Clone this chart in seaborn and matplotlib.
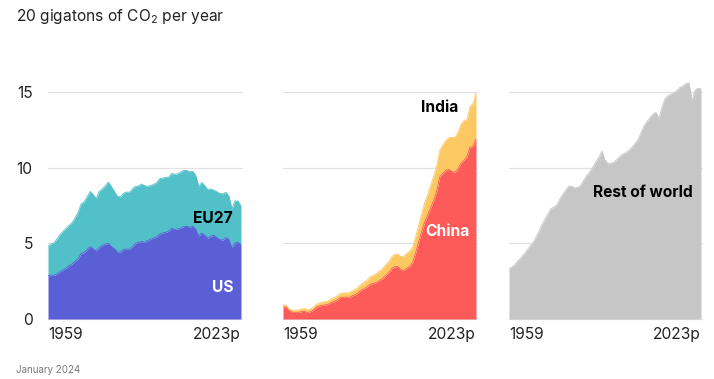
import matplotlib
matplotlib.use("Agg")
import matplotlib.pyplot as plt
import matplotlib.transforms as mtransforms
import seaborn as sns
import pandas as pd

years = list(range(1959, 2024))

us = [2.85, 2.90, 2.88, 2.99, 3.12, 3.25, 3.37, 3.53, 3.64, 3.81, 3.98, 4.33, 4.39, 4.60, 4.78, 4.63,
      4.49, 4.73, 4.87, 4.95, 4.99, 4.80, 4.65, 4.43, 4.41, 4.60, 4.61, 4.61, 4.79, 5.00, 5.07, 5.12,
      5.07, 5.17, 5.27, 5.36, 5.42, 5.61, 5.69, 5.73, 5.80, 6.01, 5.91, 5.95, 6.00, 6.11, 6.13, 6.05,
      6.13, 5.91, 5.48, 5.68, 5.53, 5.34, 5.48, 5.53, 5.38, 5.25, 5.21, 5.38, 5.26, 4.71, 5.03, 5.06, 4.91]

eu27 = [1.95, 2.05, 2.15, 2.30, 2.45, 2.55, 2.62, 2.66, 2.72, 2.88, 3.08, 3.28, 3.35, 3.48, 3.65, 3.58,
        3.47, 3.70, 3.72, 3.85, 4.05, 3.95, 3.78, 3.68, 3.65, 3.70, 3.78, 3.76, 3.80, 3.76, 3.72, 3.80,
        3.74, 3.60, 3.55, 3.53, 3.58, 3.66, 3.62, 3.63, 3.57, 3.60, 3.66, 3.64, 3.71, 3.71, 3.68, 3.68,
        3.63, 3.56, 3.27, 3.35, 3.27, 3.20, 3.12, 2.98, 3.03, 3.04, 3.06, 2.99, 2.85, 2.57, 2.77, 2.74, 2.55]

china = [0.79, 0.80, 0.55, 0.44, 0.44, 0.44, 0.48, 0.52, 0.43, 0.47, 0.58, 0.77, 0.86, 0.90, 0.94, 0.96,
         1.10, 1.15, 1.26, 1.42, 1.44, 1.44, 1.43, 1.53, 1.61, 1.75, 1.91, 2.01, 2.14, 2.30, 2.35, 2.42,
         2.55, 2.68, 2.87, 3.05, 3.32, 3.46, 3.46, 3.27, 3.20, 3.35, 3.48, 3.74, 4.39, 5.10, 5.78, 6.42,
         6.88, 7.38, 7.84, 8.47, 9.40, 9.62, 9.84, 9.88, 9.74, 9.70, 9.92, 10.29, 10.49, 10.72, 11.34, 11.40, 11.90]

india = [0.12, 0.12, 0.13, 0.14, 0.15, 0.15, 0.16, 0.17, 0.17, 0.18, 0.19, 0.20, 0.20, 0.21, 0.22, 0.23,
         0.24, 0.26, 0.27, 0.27, 0.29, 0.29, 0.31, 0.33, 0.35, 0.37, 0.40, 0.43, 0.45, 0.49, 0.53, 0.58,
         0.62, 0.65, 0.68, 0.72, 0.78, 0.80, 0.84, 0.86, 0.92, 0.98, 0.99, 1.01, 1.05, 1.11, 1.19, 1.26,
         1.37, 1.46, 1.61, 1.68, 1.75, 1.88, 1.95, 2.10, 2.26, 2.30, 2.39, 2.55, 2.61, 2.44, 2.69, 2.83, 3.06]

rest = [3.30, 3.45, 3.60, 3.85, 4.05, 4.30, 4.55, 4.80, 5.05, 5.40, 5.80, 6.25, 6.60, 6.95, 7.30, 7.40,
        7.55, 7.95, 8.25, 8.55, 8.80, 8.75, 8.65, 8.70, 8.85, 9.20, 9.50, 9.75, 10.05, 10.40, 10.70, 11.10,
        10.50, 10.25, 10.30, 10.35, 10.55, 10.75, 10.90, 11.00, 11.15, 11.35, 11.60, 11.85, 12.30, 12.75, 13.05, 13.30,
        13.55, 13.65, 13.25, 14.00, 14.55, 14.75, 14.85, 14.95, 15.10, 15.30, 15.40, 15.55, 15.60, 14.40, 15.10, 15.25, 15.20]

x_tick_values = [1959, 2023]
x_tick_labels = ["1959", "2023p"]
y_ticks = [0, 5, 10, 15]

sns.set_theme(style="white")
plt.rcParams["font.family"] = ["Inter", "DejaVu Sans"]
plt.rcParams["mathtext.fontset"] = "custom"
plt.rcParams["mathtext.rm"] = "Inter"

df = pd.DataFrame({"year": years, "US": us, "EU27": eu27, "China": china,
                   "India": india, "Rest": rest})
df["US_top"] = df["US"]
df["EU_top"] = df["US"] + df["EU27"]
df["China_top"] = df["China"]
df["India_top"] = df["China"] + df["India"]
df["Rest_top"] = df["Rest"]

FS = 11.2
fig = plt.figure(figsize=(7.14, 3.79), dpi=100)
W, H = 714, 379
y0_px, ytop_px = 319, 16.3
panels_px = [(48, 241), (283, 476), (509, 701)]
axes = []
for (l, r) in panels_px:
    ax = fig.add_axes([l / W, (H - y0_px) / H, (r - l) / W, (y0_px - ytop_px) / H])
    axes.append(ax)

c_us, c_eu = "#5a5fd6", "#52c0c8"
c_cn, c_in = "#fc5b5a", "#fcc862"
c_rw = "#c6c6c6"

# Panel 1
ax = axes[0]
ax.fill_between(df["year"], 0, df["US_top"], color=c_us, lw=0, zorder=3)
ax.fill_between(df["year"], df["US_top"], df["EU_top"], color=c_eu, lw=0, zorder=3)
sns.lineplot(data=df, x="year", y="US_top", ax=ax, color=c_us, lw=0.6, zorder=4)
sns.lineplot(data=df, x="year", y="EU_top", ax=ax, color=c_eu, lw=0.6, zorder=4)
ax.text(2020.6, 2.1, "US", color="white", fontsize=FS, fontweight="bold", ha="right", va="center", zorder=5)
ax.text(2020.3, 6.62, "EU27", color="black", fontsize=FS, fontweight="bold", ha="right", va="center", zorder=5)

# Panel 2
ax = axes[1]
ax.fill_between(df["year"], 0, df["China_top"], color=c_cn, lw=0, zorder=3)
ax.fill_between(df["year"], df["China_top"], df["India_top"], color=c_in, lw=0, zorder=3)
sns.lineplot(data=df, x="year", y="China_top", ax=ax, color=c_cn, lw=0.6, zorder=4)
sns.lineplot(data=df, x="year", y="India_top", ax=ax, color=c_in, lw=0.6, zorder=4)
ax.text(2020.8, 5.76, "China", color="white", fontsize=FS, fontweight="bold", ha="right", va="center", zorder=5)
ax.text(2017.2, 13.95, "India", color="black", fontsize=FS, fontweight="bold", ha="right", va="center", zorder=5)

# Panel 3
ax = axes[2]
ax.fill_between(df["year"], 0, df["Rest_top"], color=c_rw, lw=0, zorder=3)
sns.lineplot(data=df, x="year", y="Rest_top", ax=ax, color=c_rw, lw=0.6, zorder=4)
ax.text(2020.3, 8.34, "Rest of world", color="black", fontsize=FS, fontweight="bold", ha="right", va="center", zorder=5)

for i, ax in enumerate(axes):
    ax.set_xlim(1959, 2023)
    ax.set_ylim(0, 20)
    ax.set_xlabel("")
    ax.set_ylabel("")
    for s in ax.spines.values():
        s.set_visible(False)
    ax.set_yticks(y_ticks)
    for yv in y_ticks:
        ax.axhline(yv, color="#e2e2e2", lw=0.9, zorder=1, xmin=0, xmax=1.005, clip_on=False)
    ax.set_xticks(x_tick_values)
    ax.set_xticklabels(x_tick_labels, fontsize=FS, color="#222222")
    labs = ax.get_xticklabels()
    labs[0].set_ha("left")
    labs[1].set_ha("right")
    labs[0].set_transform(labs[0].get_transform() + mtransforms.ScaledTranslation(-4 / 100, 0, fig.dpi_scale_trans))
    labs[1].set_transform(labs[1].get_transform() + mtransforms.ScaledTranslation(2 / 100, 0, fig.dpi_scale_trans))
    ax.tick_params(axis="x", length=0, pad=6)
    if i == 0:
        ax.set_yticklabels([str(v) for v in y_ticks], fontsize=FS, color="#222222")
        ax.tick_params(axis="y", length=0, pad=11)
    else:
        ax.set_yticklabels([])
        ax.tick_params(axis="y", length=0)
    ax.set_facecolor("none")

fig.text(16 / W, 1 - 16 / H, "20 gigatons of CO$_\\mathregular{2}$ per year", fontsize=FS,
         color="#222222", ha="left", va="center")
fig.text(16 / W, 1 - 370 / H, "January 2024", fontsize=7, color="#777777", ha="left", va="center")

fig.savefig("out.png", dpi=100, facecolor="white")
